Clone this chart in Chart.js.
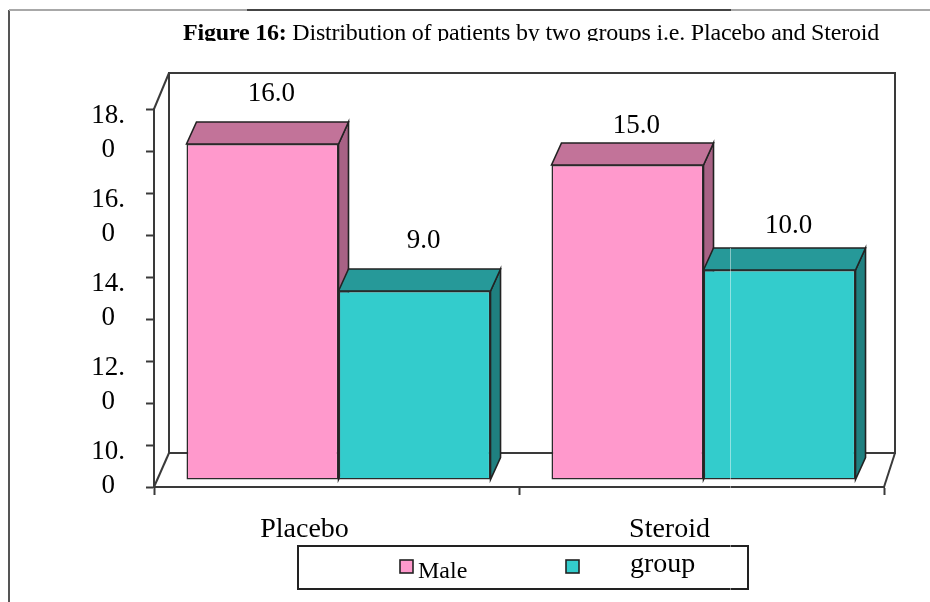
<!DOCTYPE html>
<html>
<head>
<meta charset="utf-8">
<title>Figure 16</title>
<script src="https://cdn.jsdelivr.net/npm/chart.js@4"></script>
<style>
  html, body { margin: 0; padding: 0; background: #fff; }
  canvas { display: block; }
</style>
</head>
<body>
<canvas id="chart" width="930" height="602"></canvas>
<script>
const categories = ['Placebo', 'Steroid'];
const maleValues = [16, 15];
const groupValues = [9, 10];
const yTickValues = [18, 14, 10, 6, 2];
const yTickLabels = [['18.', '0'], ['16.', '0'], ['14.', '0'], ['12.', '0'], ['10.', '0']];
const titleBold = 'Figure 16:';
const titleRest = ' Distribution of patients by two groups i.e. Placebo and Steroid';

const serif = '"Liberation Serif", "Times New Roman", serif';
const lineColor = '#3a3a3a';
// bars sit slightly off the axes in the source picture
const barShift = { x: 2, y: -7 };
const barDepth = { x: 10, y: -22 };
const wallDepth = { x: 15, y: -34 };
// distance of each value label above its bar, per dataset
const valueLift = [[51, 40], [51, 45]];

const faces = [
  { front: '#FF99CC', top: '#C27399', side: '#A86285' },
  { front: '#33CCCC', top: '#269999', side: '#1F8080' }
];

const line = (ctx, x1, y1, x2, y2) => {
  ctx.beginPath();
  ctx.moveTo(x1, y1);
  ctx.lineTo(x2, y2);
  ctx.stroke();
};

const poly = (ctx, points, fill) => {
  ctx.beginPath();
  points.forEach(([x, y], index) => (index ? ctx.lineTo(x, y) : ctx.moveTo(x, y)));
  ctx.closePath();
  ctx.fillStyle = fill;
  ctx.fill();
  ctx.stroke();
};

const framePlugin = {
  id: 'frame',
  beforeDatasetsDraw(chart) {
    const { ctx, chartArea: { left, right, top, bottom } } = chart;
    ctx.save();
    // page frame
    ctx.lineWidth = 2;
    ctx.strokeStyle = '#555555';
    line(ctx, 9, 10, 9, 602);
    ctx.strokeStyle = '#a8a8a8';
    line(ctx, 9, 10, 247, 10);
    line(ctx, 731, 10, 930, 10);
    ctx.strokeStyle = '#444444';
    line(ctx, 247, 10, 731, 10);

    // back wall and floor
    const backLeft = left + wallDepth.x;
    const backRight = right + 11;
    const backBottom = bottom + wallDepth.y;
    const backTop = top - 36;
    ctx.lineWidth = 2;
    ctx.strokeStyle = lineColor;
    ctx.strokeRect(backLeft, backTop, backRight - backLeft, backBottom - backTop);
    line(ctx, left, top, backLeft, backTop);
    line(ctx, left, bottom, backLeft, backBottom);
    line(ctx, right, bottom, backRight, backBottom);

    // depth faces of the bars, teal over pink
    ctx.lineWidth = 1.6;
    ctx.strokeStyle = '#222222';
    chart.data.datasets.forEach((dataset, datasetIndex) => {
      chart.getDatasetMeta(datasetIndex).data.forEach((bar) => {
        const x1 = bar.x - bar.width / 2 + barShift.x;
        const x2 = bar.x + bar.width / 2 + barShift.x;
        const y1 = bar.y + barShift.y;
        const y2 = bar.base + barShift.y;
        const face = faces[datasetIndex];
        poly(ctx, [[x2, y1], [x2 + barDepth.x, y1 + barDepth.y], [x2 + barDepth.x, y2 + barDepth.y], [x2, y2]], face.side);
        poly(ctx, [[x1, y1], [x1 + barDepth.x, y1 + barDepth.y], [x2 + barDepth.x, y1 + barDepth.y], [x2, y1]], face.top);
      });
    });
    ctx.restore();
  },
  beforeDatasetDraw(chart) {
    chart.ctx.save();
    chart.ctx.translate(barShift.x, barShift.y);
  },
  afterDatasetDraw(chart) {
    chart.ctx.restore();
  },
  afterDraw(chart) {
    const { ctx } = chart;
    ctx.save();

    // title, its lower edge is cut off in the source
    ctx.save();
    ctx.beginPath();
    ctx.rect(0, 12, 930, 29);
    ctx.clip();
    ctx.fillStyle = '#000';
    ctx.textBaseline = 'alphabetic';
    ctx.textAlign = 'left';
    ctx.letterSpacing = '-0.2px';
    ctx.font = `bold 24px ${serif}`;
    ctx.fillText(titleBold, 183, 40);
    const boldWidth = ctx.measureText(titleBold).width;
    ctx.font = `24px ${serif}`;
    ctx.fillText(titleRest, 183 + boldWidth, 40);
    ctx.restore();

    // value labels
    ctx.fillStyle = '#000';
    ctx.font = `27px ${serif}`;
    ctx.textAlign = 'center';
    ctx.textBaseline = 'middle';
    chart.data.datasets.forEach((dataset, datasetIndex) => {
      chart.getDatasetMeta(datasetIndex).data.forEach((bar, index) => {
        const label = dataset.data[index].toFixed(1);
        ctx.fillText(label, bar.x + barShift.x + 9, bar.y + barShift.y - valueLift[datasetIndex][index] + 1);
      });
    });

    // legend box
    ctx.fillStyle = '#fff';
    ctx.strokeStyle = '#222222';
    ctx.lineWidth = 2;
    ctx.fillRect(298, 546, 450, 43);
    ctx.strokeRect(298, 546, 450, 43);
    ctx.lineWidth = 1.6;
    ctx.fillStyle = chart.data.datasets[0].backgroundColor;
    ctx.fillRect(400, 560, 13, 13);
    ctx.strokeRect(400, 560, 13, 13);
    ctx.fillStyle = chart.data.datasets[1].backgroundColor;
    ctx.fillRect(566, 560, 13, 13);
    ctx.strokeRect(566, 560, 13, 13);
    ctx.fillStyle = '#000';
    ctx.textAlign = 'left';
    ctx.textBaseline = 'alphabetic';
    ctx.font = `24px ${serif}`;
    ctx.fillText(chart.data.datasets[0].label, 418, 578);
    ctx.font = `28px ${serif}`;
    ctx.fillText(chart.data.datasets[1].label, 630, 572);

    // faint scan seam
    ctx.strokeStyle = 'rgba(255,255,255,0.45)';
    ctx.lineWidth = 1;
    line(ctx, 730.5, 248, 730.5, 590);
    ctx.restore();
  }
};

new Chart(document.getElementById('chart'), {
  type: 'bar',
  data: {
    labels: categories,
    datasets: [
      { label: 'Male', data: maleValues, backgroundColor: faces[0].front },
      { label: 'group', data: groupValues, backgroundColor: faces[1].front }
    ]
  },
  plugins: [framePlugin],
  options: {
    responsive: false,
    animation: false,
    layout: { padding: { left: 0, right: 46, top: 109, bottom: 0 } },
    datasets: {
      bar: {
        barPercentage: 1,
        categoryPercentage: 0.833,
        borderWidth: 1.6,
        borderColor: '#2a2a2a',
        borderSkipped: false,
        clip: false
      }
    },
    plugins: {
      legend: { display: false },
      title: { display: false },
      tooltip: { enabled: false }
    },
    scales: {
      x: {
        afterFit(scale) { scale.height = 115; },
        grid: { drawOnChartArea: false, tickLength: 8, tickColor: lineColor, tickWidth: 2 },
        border: { color: lineColor, width: 2 },
        ticks: {
          color: '#000',
          font: { family: serif, size: 28 },
          padding: 18,
          labelOffset: -32,
          maxRotation: 0
        }
      },
      y: {
        min: 0,
        max: 18,
        afterFit(scale) { scale.width = 154; },
        grid: { drawOnChartArea: false, tickLength: 8, tickColor: lineColor, tickWidth: 2 },
        border: { color: lineColor, width: 2 },
        ticks: {
          stepSize: 2,
          autoSkip: false,
          color: '#000',
          font: { family: serif, size: 27, lineHeight: 1.23 },
          crossAlign: 'center',
          padding: 21,
          labelOffset: 24,
          callback(value) {
            const at = yTickValues.indexOf(value);
            return at === -1 ? '' : yTickLabels[at];
          }
        }
      }
    }
  }
});
</script>
</body>
</html>
